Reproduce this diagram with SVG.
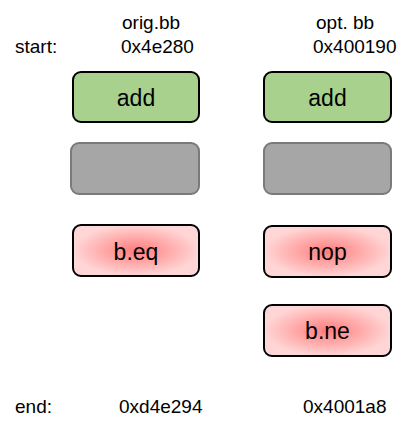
<svg xmlns="http://www.w3.org/2000/svg" width="408" height="439" viewBox="0 0 408 439">
  <style>
    .lbl { font-family: "Liberation Sans", Arial, sans-serif; font-size: 19px; fill: #000; }
    .op { font-family: "Liberation Sans", Arial, sans-serif; font-size: 23px; fill: #000; text-anchor: middle; }
    .green { fill: #a9d18e; stroke: #000; stroke-width: 2; }
    .gray { fill: #a6a6a6; stroke: #7a7a7a; stroke-width: 2; }
    .red { fill: url(#redGrad); stroke: #000; stroke-width: 2; }
  </style>
  <defs>
    <radialGradient id="redGrad" cx="0.5" cy="0.5" r="0.5" fx="0.5" fy="0.5">
      <stop offset="0" stop-color="#ff7c7c"/>
      <stop offset="1" stop-color="#ffd6d6"/>
    </radialGradient>
  </defs>

  <g id="headers">
    <text class="lbl" x="122" y="29">orig.bb</text>
    <text class="lbl" x="316" y="29">opt. bb</text>
    <text class="lbl" x="15" y="53">start:</text>
    <text class="lbl" x="121" y="53">0x4e280</text>
    <text class="lbl" x="313" y="53">0x400190</text>
    <text class="lbl" x="15" y="413">end:</text>
    <text class="lbl" x="119" y="413">0xd4e294</text>
    <text class="lbl" x="303" y="413">0x4001a8</text>
  </g>

  <g id="orig-add">
    <rect class="green" x="73" y="72" width="126" height="50" rx="8"/>
    <text class="op" x="136" y="106">add</text>
  </g>
  <g id="orig-gray">
    <rect class="gray" x="71" y="143" width="128" height="51" rx="8"/>
  </g>
  <g id="orig-beq">
    <rect class="red" x="73" y="225" width="126" height="51" rx="8"/>
    <text class="op" x="136" y="260">b.eq</text>
  </g>

  <g id="opt-add">
    <rect class="green" x="264" y="72" width="127" height="50" rx="8"/>
    <text class="op" x="327.5" y="106">add</text>
  </g>
  <g id="opt-gray">
    <rect class="gray" x="264" y="143" width="127" height="51" rx="8"/>
  </g>
  <g id="opt-nop">
    <rect class="red" x="264" y="226" width="127" height="51" rx="8"/>
    <text class="op" x="327.5" y="260">nop</text>
  </g>
  <g id="opt-bne">
    <rect class="red" x="264" y="305" width="127" height="51" rx="8"/>
    <text class="op" x="327.5" y="339">b.ne</text>
  </g>

  <g id="connectors"></g>
</svg>
